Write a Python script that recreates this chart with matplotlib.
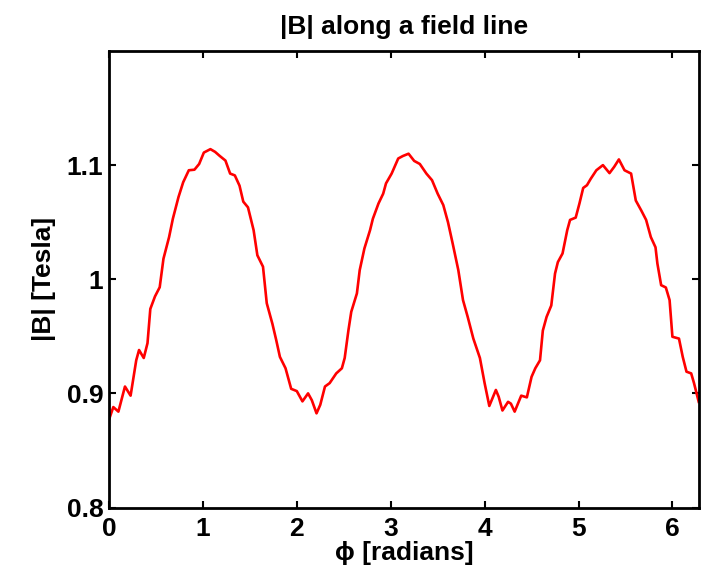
import numpy as np
import matplotlib
matplotlib.use("Agg")
import matplotlib.pyplot as plt

phi = [0.00, 0.046, 0.10, 0.17, 0.23, 0.29, 0.32, 0.37, 0.41, 0.44, 0.49, 0.54, 0.58, 0.64,
       0.68, 0.74, 0.79, 0.85, 0.91, 0.96, 1.01, 1.08, 1.13, 1.18, 1.24, 1.29, 1.34, 1.39,
       1.43, 1.48, 1.54, 1.58, 1.64, 1.68, 1.74, 1.78, 1.82, 1.88, 1.94, 2.00, 2.06, 2.12,
       2.16, 2.21, 2.25, 2.30, 2.35, 2.42, 2.48, 2.51, 2.55, 2.58, 2.64, 2.67, 2.72, 2.78,
       2.81, 2.87, 2.92, 2.95, 3.01, 3.08, 3.13, 3.19, 3.25, 3.31, 3.38, 3.44, 3.50, 3.56,
       3.61, 3.66, 3.72, 3.77, 3.82, 3.88, 3.95, 4.00, 4.05, 4.12, 4.15, 4.19, 4.25, 4.28,
       4.32, 4.39, 4.45, 4.50, 4.54, 4.59, 4.62, 4.66, 4.71, 4.75, 4.78, 4.83, 4.88, 4.91,
       4.97, 5.01, 5.05, 5.09, 5.13, 5.19, 5.26, 5.33, 5.38, 5.43, 5.49, 5.56, 5.61, 5.67,
       5.72, 5.77, 5.82, 5.84, 5.88, 5.93, 5.97, 6.00, 6.07, 6.11, 6.15, 6.20, 6.23, 6.28]
B = [0.877, 0.888, 0.884, 0.906, 0.898, 0.929, 0.938, 0.931, 0.944, 0.974, 0.985, 0.993, 1.018, 1.037,
     1.053, 1.072, 1.085, 1.0955, 1.096, 1.101, 1.111, 1.114, 1.1116, 1.108, 1.104, 1.0926, 1.091, 1.082,
     1.068, 1.063, 1.043, 1.021, 1.011, 0.979, 0.961, 0.947, 0.932, 0.922, 0.904, 0.902, 0.893, 0.900,
     0.894, 0.8825, 0.890, 0.906, 0.909, 0.9175, 0.922, 0.931, 0.9554, 0.9715, 0.9876, 1.008, 1.027, 1.043,
     1.053, 1.0664, 1.075, 1.084, 1.0926, 1.1058, 1.108, 1.110, 1.1037, 1.101, 1.0926, 1.0868, 1.075, 1.065,
     1.050, 1.0313, 1.008, 0.9817, 0.967, 0.948, 0.931, 0.909, 0.889, 0.903, 0.897, 0.885, 0.8926, 0.891,
     0.884, 0.898, 0.8965, 0.9145, 0.922, 0.929, 0.955, 0.967, 0.977, 1.005, 1.015, 1.0226, 1.043, 1.052,
     1.054, 1.0664, 1.080, 1.0824, 1.088, 1.0955, 1.100, 1.093, 1.0985, 1.105, 1.0955, 1.0926, 1.069, 1.060,
     1.052, 1.037, 1.028, 1.0138, 0.9948, 0.9928, 0.9817, 0.9496, 0.948, 0.932, 0.919, 0.9175, 0.909, 0.8926]

xticks = [0, 1, 2, 3, 4, 5, 6]
yticks = [0.8, 0.9, 1.0, 1.1]
yticklabels = ["0.8", "0.9", "1", "1.1"]

plt.rcParams['font.family'] = ['Liberation Sans', 'DejaVu Sans']
plt.rcParams['font.weight'] = 'bold'

FS = 19
fig = plt.figure(figsize=(7.02, 5.77), dpi=100)
ax = fig.add_axes([109/702, 1 - 507.5/577, 590/702, (507.5 - 51)/577])
ax.plot(phi, B, color='red', linewidth=1.9)
ax.set_xlim(0, 2 * np.pi)
ax.set_ylim(0.8, 1.2)
ax.set_xticks(xticks)
ax.set_xticklabels([str(t) for t in xticks])
ax.set_yticks(yticks)
ax.set_yticklabels(yticklabels)
for s in ax.spines.values():
    s.set_linewidth(2)
ax.tick_params(direction='in', length=5, width=1.5, top=True, right=True, labelsize=FS)
ax.tick_params(axis='x', pad=7)
ax.tick_params(axis='y', pad=4)
for lab in ax.get_xticklabels() + ax.get_yticklabels():
    lab.set_fontweight('bold')
ax.set_title('|B| along a field line', fontsize=FS, fontweight='bold', pad=12)
ax.set_xlabel('ϕ [radians]', fontsize=FS, fontweight='bold', labelpad=0)
ax.set_ylabel('|B| [Tesla]', fontsize=FS, fontweight='bold', labelpad=8)
fig.savefig('out.png', dpi=100)
